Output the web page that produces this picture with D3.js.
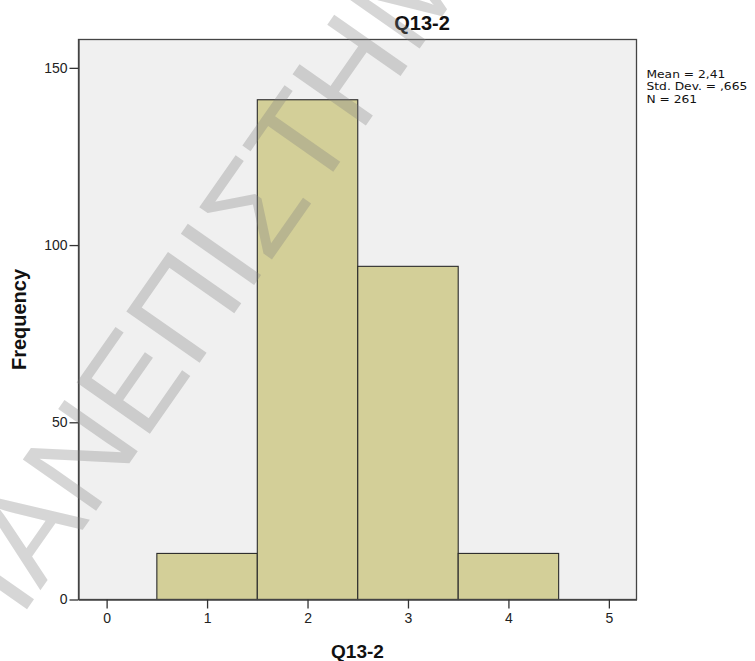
<!DOCTYPE html>
<html>
<head>
<meta charset="utf-8">
<script src="https://cdn.jsdelivr.net/npm/d3@7"></script>
<style>
  html, body { margin: 0; padding: 0; background: #ffffff; }
  svg { display: block; }
</style>
</head>
<body>
<svg id="chart" width="755" height="661"></svg>
<script>
// ---- data ----
const binLower = [0.5, 1.5, 2.5, 3.5];
const binUpper = [1.5, 2.5, 3.5, 4.5];
const frequencies = [13, 141, 94, 13];
const xTickValues = [0, 1, 2, 3, 4, 5];
const yTickValues = [0, 50, 100, 150];
const chartTitle = "Q13-2";
const xAxisTitle = "Q13-2";
const yAxisTitle = "Frequency";
const statLines = ["Mean = 2,41", "Std. Dev. = ,665", "N = 261"];
const watermarkText = "ΠΑΝΕΠΙΣΤΗΜΙΟ ΠΕΙΡΑΙΩΣ";

// ---- layout ----
const svg = d3.select("#chart");
const plot = { left: 78.5, right: 636.5, top: 39.5, bottom: 599.5 };

const x = d3.scaleLinear().domain([-0.28, 5.275]).range([plot.left, plot.right]);
const y = d3.scaleLinear().domain([0, 158]).range([plot.bottom, plot.top]);

// plot background
svg.append("rect")
  .attr("x", plot.left).attr("y", plot.top)
  .attr("width", plot.right - plot.left).attr("height", plot.bottom - plot.top)
  .attr("fill", "#f0f0f0");

// bars
const bins = frequencies.map((f, i) => ({ x0: binLower[i], x1: binUpper[i], n: f }));
svg.append("g").selectAll("rect").data(bins).join("rect")
  .attr("x", d => x(d.x0))
  .attr("y", d => y(d.n))
  .attr("width", d => x(d.x1) - x(d.x0))
  .attr("height", d => y(0) - y(d.n))
  .attr("fill", "#d3cf98")
  .attr("stroke", "#2a2a2a")
  .attr("stroke-width", 1.1);

// frame
svg.append("rect")
  .attr("x", plot.left).attr("y", plot.top)
  .attr("width", plot.right - plot.left).attr("height", plot.bottom - plot.top)
  .attr("fill", "none").attr("stroke", "#444").attr("stroke-width", 1.3);

// axes
const xAxis = d3.axisBottom(x).tickValues(xTickValues).tickFormat(d3.format("d"))
  .tickSize(9).tickSizeOuter(0).tickPadding(5);
const yAxis = d3.axisLeft(y).tickValues(yTickValues).tickFormat(d3.format("d"))
  .tickSize(9).tickSizeOuter(0).tickPadding(2);

const gx = svg.append("g").attr("transform", `translate(0,${plot.bottom})`).call(xAxis);
const gy = svg.append("g").attr("transform", `translate(${plot.left},0)`).call(yAxis);
[gx, gy].forEach(g => {
  g.select(".domain").attr("stroke", "#444").attr("stroke-width", 1.3);
  g.selectAll(".tick line").attr("stroke", "#333").attr("stroke-width", 1.3);
  g.selectAll(".tick text")
    .attr("fill", "#222")
    .style("font-family", "'Liberation Sans', Arial, sans-serif")
    .style("font-size", "14px");
});

// titles
svg.append("text")
  .attr("x", 422).attr("y", 30)
  .attr("text-anchor", "middle")
  .style("font-family", "'Liberation Sans', Arial, sans-serif")
  .style("font-size", "20px").style("font-weight", "bold")
  .attr("fill", "#111")
  .text(chartTitle);

svg.append("text")
  .attr("x", (plot.left + plot.right) / 2).attr("y", 658)
  .attr("text-anchor", "middle")
  .style("font-family", "'Liberation Sans', Arial, sans-serif")
  .style("font-size", "19px").style("font-weight", "bold")
  .attr("fill", "#111")
  .text(xAxisTitle);

svg.append("text")
  .attr("transform", `translate(26,${(plot.top + plot.bottom) / 2}) rotate(-90)`)
  .attr("text-anchor", "middle")
  .style("font-family", "'Liberation Sans', Arial, sans-serif")
  .style("font-size", "20px").style("font-weight", "bold")
  .attr("fill", "#111")
  .text(yAxisTitle);

// stats
svg.append("g")
  .attr("transform", "translate(646.5,0) scale(1.17,1)")
  .selectAll("text").data(statLines).join("text")
  .attr("x", 0)
  .attr("y", (d, i) => 78 + i * 12.3)
  .style("font-family", "'DejaVu Sans', sans-serif")
  .style("font-size", "10.5px")
  .attr("fill", "#111")
  .text(d => d);

// watermark
svg.append("text")
  .attr("transform", "translate(-13.7,667.4) rotate(-55)")
  .style("font-family", "'Liberation Sans', Arial, sans-serif")
  .style("font-size", "130px")
  .attr("fill", "#808080")
  .attr("fill-opacity", 0.32)
  .text(watermarkText);
</script>
</body>
</html>
